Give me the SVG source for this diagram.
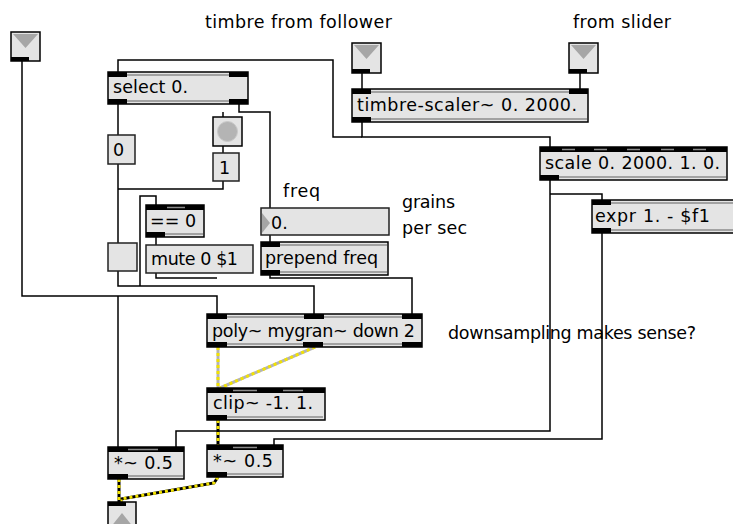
<svg xmlns="http://www.w3.org/2000/svg" width="733" height="524" viewBox="0 0 733 524">
<style>
.box{fill:#e4e4e4;stroke:#000;stroke-width:1.5}
.msg{fill:#e4e4e4;stroke:#222;stroke-width:1.5}
.io{fill:#000}
.bar{stroke:#8c8c8c;stroke-width:1.5}
.t{font-family:"DejaVu Sans","Liberation Sans",sans-serif;font-size:17.5px;fill:#000}
.c{fill:none;stroke:#000;stroke-width:1.5}
.sb{fill:none;stroke:#000;stroke-width:3}
.sg{fill:none;stroke:#b4b4b4;stroke-width:3}
.sy{fill:none;stroke:#f2e200;stroke-width:3;stroke-dasharray:3 3}
.tri{fill:#a6a6a6}
</style>
<rect width="733" height="524" fill="#fff"/>

<g id="connectors">
  <path class="c" d="M22,61 V296 H217 V314"/>
  <path class="c" d="M118,296 V447"/>
  <path class="c" d="M156,273 V278 H217"/>
  <path class="c" d="M118,104 V135"/>
  <path class="c" d="M118,164 V243"/>
  <path class="c" d="M223,181 V189 H118"/>
  <path class="c" d="M239,104 V112 H270 V208"/>
  <path class="c" d="M223,112 V117"/>
  <path class="c" d="M223,146 V153"/>
  <path class="c" d="M118,271 V286 H314 V314"/>
  <path class="c" d="M140,286 V196 H156 V205"/>
  <path class="c" d="M156,237 V245"/>
  <path class="c" d="M270,235 V242"/>
  <path class="c" d="M270,275 V278 H412 V314"/>
  <path class="c" d="M362,73 V89"/>
  <path class="c" d="M580,73 V89"/>
  <path class="c" d="M362,122 V137 H550 V147"/>
  <path class="c" d="M362,137 H333 V60 H118 V72"/>
  <path class="c" d="M550,180 V431 H176 V447"/>
  <path class="c" d="M550,194 H602 V200"/>
  <path class="c" d="M602,233 V439 H274 V445"/>
  <path class="sg" d="M218,347 V388"/>
  <path class="sy" d="M218,347 V388"/>
  <path class="sg" d="M315,347 L220,388"/>
  <path class="sy" d="M315,347 L220,388"/>
  <path class="sb" d="M218,420 V445"/>
  <path class="sy" d="M218,420 V445"/>
  <path class="sb" d="M218,477 L214,483 L121,499 V502"/>
  <path class="sy" d="M218,477 L214,483 L121,499 V502"/>
  <path class="sb" d="M119,479 V502"/>
  <path class="sy" d="M119,479 V502"/>
</g>

<g id="inlet-left">
  <rect class="box" x="11" y="32" width="29" height="29"/>
  <polygon class="tri" points="13,34 38,34 25.5,48"/>
  <rect class="io" x="11" y="57" width="18" height="4"/>
</g>
<g id="inlet-timbre">
  <rect class="box" x="352" y="43" width="29" height="30"/>
  <polygon class="tri" points="354,45 379,45 366.5,59"/>
  <rect class="io" x="352" y="69" width="18" height="4"/>
</g>
<g id="inlet-slider">
  <rect class="box" x="569" y="43" width="29" height="30"/>
  <polygon class="tri" points="571,45 596,45 583.5,59"/>
  <rect class="io" x="569" y="69" width="18" height="4"/>
</g>

<g id="label-timbre"><text class="t" x="205" y="28" textLength="187" lengthAdjust="spacing">timbre from follower</text></g>
<g id="label-slider"><text class="t" x="573" y="28" textLength="98" lengthAdjust="spacing">from slider</text></g>

<g id="select">
  <rect class="box" x="108" y="72" width="140" height="32"/>
  <line class="bar" x1="127" y1="75" x2="229" y2="75"/>
  <line class="bar" x1="127" y1="101" x2="229" y2="101"/>
  <rect class="io" x="108" y="72" width="19" height="5"/>
  <rect class="io" x="229" y="72" width="19" height="5"/>
  <rect class="io" x="108" y="99" width="19" height="5"/>
  <rect class="io" x="229" y="99" width="19" height="5"/>
  <text class="t" x="113" y="93" textLength="75" lengthAdjust="spacing">select 0.</text>
</g>

<g id="timbre-scaler">
  <rect class="box" x="352" y="89" width="236" height="33"/>
  <line class="bar" x1="371" y1="92" x2="569" y2="92"/>
  <line class="bar" x1="371" y1="119" x2="587" y2="119"/>
  <rect class="io" x="352" y="89" width="19" height="5"/>
  <rect class="io" x="569" y="89" width="19" height="5"/>
  <rect class="io" x="352" y="117" width="19" height="5"/>
  <text class="t" x="357" y="111" textLength="220" lengthAdjust="spacing">timbre-scaler~ 0. 2000.</text>
</g>

<g id="msg-0">
  <rect class="msg" x="108" y="135" width="27" height="29"/>
  <text class="t" x="113" y="156">0</text>
</g>

<g id="bang">
  <rect class="box" x="213" y="117" width="29" height="29"/>
  <circle cx="227.5" cy="131.5" r="10" fill="#b4b4b4" stroke="#c8c8c8" stroke-width="1"/>
</g>

<g id="msg-1">
  <rect class="msg" x="213" y="153" width="26" height="28"/>
  <text class="t" x="219" y="174">1</text>
</g>

<g id="scale">
  <rect class="box" x="540" y="147" width="187" height="33"/>
  <rect class="io" x="540" y="147" width="187" height="5"/>
  <line class="bar" x1="562" y1="149.5" x2="575" y2="149.5"/>
  <line class="bar" x1="594" y1="149.5" x2="607" y2="149.5"/>
  <line class="bar" x1="627" y1="149.5" x2="640" y2="149.5"/>
  <line class="bar" x1="661" y1="149.5" x2="674" y2="149.5"/>
  <line class="bar" x1="693" y1="149.5" x2="706" y2="149.5"/>
  <line class="bar" x1="559" y1="177" x2="726" y2="177"/>
  <rect class="io" x="540" y="175" width="19" height="5"/>
  <text class="t" x="545" y="169" textLength="175" lengthAdjust="spacing">scale 0. 2000. 1. 0.</text>
</g>

<g id="expr">
  <rect class="box" x="592" y="200" width="150" height="33"/>
  <line class="bar" x1="611" y1="203" x2="742" y2="203"/>
  <line class="bar" x1="611" y1="230" x2="742" y2="230"/>
  <rect class="io" x="592" y="200" width="19" height="5"/>
  <rect class="io" x="592" y="228" width="19" height="5"/>
  <text class="t" x="595" y="222" textLength="115" lengthAdjust="spacing">expr 1. - $f1</text>
</g>

<g id="label-freq"><text class="t" x="283" y="197" textLength="37" lengthAdjust="spacing">freq</text></g>
<g id="label-grains">
  <text class="t" x="402" y="208" textLength="53" lengthAdjust="spacing">grains</text>
  <text class="t" x="402" y="234" textLength="65" lengthAdjust="spacing">per sec</text>
</g>

<g id="eq0">
  <rect class="box" x="146" y="205" width="58" height="32"/>
  <rect class="io" x="146" y="205" width="58" height="5"/>
  <line class="bar" x1="167" y1="207.5" x2="185" y2="207.5"/>
  <line class="bar" x1="165" y1="234" x2="203" y2="234"/>
  <rect class="io" x="146" y="232" width="19" height="5"/>
  <text class="t" x="150" y="227">== 0</text>
</g>

<g id="number">
  <rect class="msg" x="261" y="208" width="128" height="27"/>
  <polygon class="tri" points="262,213 270,223 262,233"/>
  <text class="t" x="271" y="229">0.</text>
</g>

<g id="toggle">
  <rect class="msg" x="108" y="243" width="29" height="28"/>
</g>

<g id="mute">
  <rect class="msg" x="146" y="245" width="107" height="28"/>
  <text class="t" x="151" y="265" textLength="87" lengthAdjust="spacing">mute 0 $1</text>
</g>

<g id="prepend">
  <rect class="box" x="261" y="242" width="127" height="33"/>
  <line class="bar" x1="280" y1="245" x2="387" y2="245"/>
  <line class="bar" x1="280" y1="272" x2="387" y2="272"/>
  <rect class="io" x="261" y="242" width="19" height="5"/>
  <rect class="io" x="261" y="270" width="19" height="5"/>
  <text class="t" x="265" y="264" textLength="113" lengthAdjust="spacing">prepend freq</text>
</g>

<g id="poly">
  <rect class="box" x="207" y="314" width="215" height="33"/>
  <line class="bar" x1="227" y1="317" x2="304" y2="317"/>
  <line class="bar" x1="324" y1="317" x2="402" y2="317"/>
  <line class="bar" x1="227" y1="344" x2="303" y2="344"/>
  <line class="bar" x1="323" y1="344" x2="402" y2="344"/>
  <rect class="io" x="207" y="314" width="20" height="5"/>
  <rect class="io" x="304" y="314" width="20" height="5"/>
  <rect class="io" x="402" y="314" width="20" height="5"/>
  <rect class="io" x="207" y="342" width="20" height="5"/>
  <rect class="io" x="303" y="342" width="20" height="5"/>
  <rect class="io" x="402" y="342" width="20" height="5"/>
  <text class="t" x="212" y="337" textLength="203" lengthAdjust="spacing">poly~ mygran~ down 2</text>
</g>

<g id="label-downsampling"><text class="t" x="448" y="339" textLength="248" lengthAdjust="spacing">downsampling makes sense?</text></g>

<g id="clip">
  <rect class="box" x="207" y="388" width="118" height="32"/>
  <rect class="io" x="207" y="388" width="118" height="5"/>
  <line class="bar" x1="233" y1="390.5" x2="257" y2="390.5"/>
  <line class="bar" x1="283" y1="390.5" x2="303" y2="390.5"/>
  <line class="bar" x1="227" y1="417" x2="323" y2="417"/>
  <rect class="io" x="207" y="415" width="20" height="5"/>
  <text class="t" x="213" y="409" textLength="100" lengthAdjust="spacing">clip~ -1. 1.</text>
</g>

<g id="mul-right">
  <rect class="box" x="207" y="445" width="76" height="32"/>
  <rect class="io" x="207" y="445" width="76" height="5"/>
  <line class="bar" x1="233" y1="447.5" x2="257" y2="447.5"/>
  <line class="bar" x1="227" y1="474" x2="282" y2="474"/>
  <rect class="io" x="207" y="472" width="20" height="5"/>
  <text class="t" x="213" y="467" textLength="60" lengthAdjust="spacing">*~ 0.5</text>
</g>

<g id="mul-left">
  <rect class="box" x="108" y="447" width="76" height="32"/>
  <rect class="io" x="108" y="447" width="76" height="5"/>
  <line class="bar" x1="128" y1="449.5" x2="158" y2="449.5"/>
  <line class="bar" x1="128" y1="476" x2="183" y2="476"/>
  <rect class="io" x="108" y="474" width="20" height="5"/>
  <text class="t" x="114" y="469" textLength="59" lengthAdjust="spacing">*~ 0.5</text>
</g>

<g id="outlet">
  <rect class="box" x="108" y="502" width="28" height="30"/>
  <rect class="io" x="108" y="502" width="18" height="4"/>
  <polygon class="tri" points="110,528 122,513 134,528"/>
</g>
</svg>
